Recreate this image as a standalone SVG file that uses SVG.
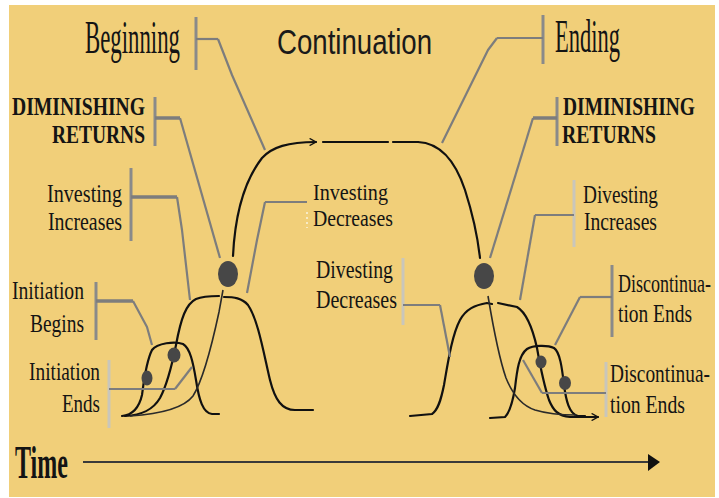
<svg xmlns="http://www.w3.org/2000/svg" width="719" height="498" viewBox="0 0 719 498">
<defs>
<style>
.t{font-family:"Liberation Serif","Times New Roman",serif;font-size:25px;fill:#141414}
.b{font-weight:bold}
.big{font-size:46px}
.sm{font-size:23.5px}
.sans{font-family:"Liberation Sans",Arial,sans-serif;font-size:35px;fill:#1a1a1a}
.bar{stroke:#8a8a8a;stroke-width:3;fill:none}
.lbar{stroke:#c9c6bb;stroke-width:3;fill:none}
.ld{stroke:#7d7d7d;stroke-width:2.2;fill:none;stroke-linejoin:round}
.hz{stroke:#7d7d7d;stroke-width:3.5;fill:none}
.cv{stroke:#111;stroke-width:2.2;fill:none;stroke-linecap:round}
.th{stroke:#2a2a2a;stroke-width:1.6;fill:none}
.dot{fill:#474747}
</style>
<marker id="chev" viewBox="0 0 10 10" refX="9" refY="5" markerWidth="8" markerHeight="8" markerUnits="userSpaceOnUse" orient="auto">
<path d="M1,0.5 L9,5 L1,9.5" fill="none" stroke="#111" stroke-width="1.6"/>
</marker>
</defs>
<rect width="719" height="498" fill="#ffffff"/>
<rect x="9" y="5" width="706" height="492" fill="#F1CF79"/>

<g id="curves">
<path class="cv" d="M233,256 C235,215 245,180 262,158 C272,147 288,142 316,142" marker-end="url(#chev)"/>
<path class="cv" d="M323,142 L388,142 M393,142 L418,142"/>
<path class="cv" d="M418,142 C440,143 455,160 465,190 C473,215 478,240 480,258"/>
<path class="cv" d="M125,416 C142,415 153,410 160,398 C168,383 172,365 176,345 C181,318 186,304 196,299 C203,296 212,296 219,296 M224,297 C234,297 242,298 248,305 C258,320 263,350 270,380 C275,400 282,410 295,410 L313,410"/>
<path class="cv" d="M122,416 C133,415 139,408 142,395 C144,380 146,362 152,350 C157,343 175,341 183,344 C190,348 193,362 196,380 C199,400 203,413 212,414 L219,414"/>
<path class="th" d="M130,416 C160,414 183,409 193,396 C203,380 213,340 219,312 L223,290"/>
<path class="cv" d="M410,416 L432,414 C438,410 441,400 444,385 C448,362 452,335 460,320 C466,309 475,305 487,303 L492,304 M498,303 L517,307 C527,313 533,330 537,348 C540,365 544,385 549,400 C553,410 558,416 570,417 L598,417" marker-end="url(#chev)"/>
<path class="cv" d="M490,418 L505,417 C510,412 513,400 515,388 C517,370 519,355 527,349 C533,345 548,345 554,348 C560,352 562,368 564,385 C566,400 569,414 578,416 L585,416"/>
<path class="th" d="M488,296 C492,320 498,355 506,378 C512,393 520,405 535,410 C548,414 560,415 576,415"/>
<ellipse class="dot" cx="228" cy="274" rx="10" ry="13"/>
<ellipse class="dot" cx="484" cy="276" rx="10" ry="13"/>
<ellipse class="dot" cx="147" cy="378" rx="5.5" ry="7.5"/>
<ellipse class="dot" cx="174" cy="355" rx="6.5" ry="7.5"/>
<ellipse class="dot" cx="541" cy="362" rx="5.5" ry="6.5"/>
<ellipse class="dot" cx="565" cy="383" rx="6" ry="7"/>
</g>

<g id="connectors">
<path class="ld" d="M218,39 L232,75 L265,150"/>
<path class="ld" d="M497,38 L488,50 L442,143"/>
<path class="ld" d="M180,118 L220,258"/>
<path class="ld" d="M533,118 L490,258"/>
<path class="ld" d="M177,197 L182,230 L190,300"/>
<path class="ld" d="M265,202 L257,240 L247,293"/>
<path class="ld" d="M133,301 L147,327 L152,345"/>
<path class="ld" d="M175,389 L192,367"/>
<path class="ld" d="M440,305 L450,357"/>
<path class="ld" d="M535,215 L520,300"/>
<path class="ld" d="M580,297 L555,345"/>
<path class="ld" d="M542,393 L523,360"/>
</g>

<g id="beginning">
<path class="bar" d="M196,17 V70"/><path class="ld" d="M196,39 H218"/>
<text class="t big" x="85" y="53" textLength="95" lengthAdjust="spacingAndGlyphs">Beginning</text>
</g>
<g id="continuation">
<text class="sans" x="277" y="54" textLength="155" lengthAdjust="spacingAndGlyphs">Continuation</text>
</g>
<g id="ending">
<path class="bar" d="M543,15 V64"/><path class="ld" d="M543,38 H497"/>
<text class="t big" x="555" y="52" textLength="65" lengthAdjust="spacingAndGlyphs">Ending</text>
</g>
<g id="dim-left">
<path class="bar" d="M155,97 V146"/><path class="hz" d="M155,118 H180"/>
<text class="t b" x="12" y="115" textLength="133" lengthAdjust="spacingAndGlyphs">DIMINISHING</text>
<text class="t b" x="52" y="143" textLength="93" lengthAdjust="spacingAndGlyphs">RETURNS</text>
</g>
<g id="dim-right">
<path class="bar" d="M557,97 V146"/><path class="hz" d="M557,118 H533"/>
<text class="t b" transform="translate(563,115) scale(0.779,1)" x="0" y="0">DIMINISHING</text>
<text class="t b" x="562" y="143" textLength="94" lengthAdjust="spacingAndGlyphs">RETURNS</text>
</g>
<g id="investing-increases">
<path class="bar" d="M131,168 V241"/><path class="hz" d="M131,197 H177"/>
<text class="t" x="47" y="202" textLength="75" lengthAdjust="spacingAndGlyphs">Investing</text>
<text class="t" x="48" y="230" textLength="74" lengthAdjust="spacingAndGlyphs">Increases</text>
</g>
<g id="investing-decreases">
<path d="M307,212 V228" stroke="#f7ebc6" stroke-width="2" stroke-dasharray="2 3"/><path class="ld" d="M307,202 H265"/>
<text class="t sm" x="313" y="200" textLength="75" lengthAdjust="spacingAndGlyphs">Investing</text>
<text class="t sm" x="313" y="226" textLength="80" lengthAdjust="spacingAndGlyphs">Decreases</text>
</g>
<g id="initiation-begins">
<path class="bar" d="M96,282 V340"/><path class="hz" d="M96,301 H133"/>
<text class="t" x="12" y="299" textLength="72" lengthAdjust="spacingAndGlyphs">Initiation</text>
<text class="t" x="30" y="332" textLength="54" lengthAdjust="spacingAndGlyphs">Begins</text>
</g>
<g id="initiation-ends">
<path class="lbar" d="M109,360 V428"/><path class="ld" d="M109,389 H175"/>
<text class="t" x="29" y="380" textLength="71" lengthAdjust="spacingAndGlyphs">Initiation</text>
<text class="t" x="62" y="412" textLength="38" lengthAdjust="spacingAndGlyphs">Ends</text>
</g>
<g id="divesting-decreases">
<path class="lbar" d="M403,258 V325"/><path class="ld" d="M403,305 H440"/>
<text class="t" x="316" y="278" textLength="77" lengthAdjust="spacingAndGlyphs">Divesting</text>
<text class="t" x="316" y="308" textLength="81" lengthAdjust="spacingAndGlyphs">Decreases</text>
</g>
<g id="divesting-increases">
<path class="lbar" d="M574,180 V247"/><path class="ld" d="M574,215 H535"/>
<text class="t" x="583" y="203" textLength="75" lengthAdjust="spacingAndGlyphs">Divesting</text>
<text class="t" x="584" y="230" textLength="73" lengthAdjust="spacingAndGlyphs">Increases</text>
</g>
<g id="discontinuation-upper">
<path class="bar" d="M612,265 V337"/><path class="ld" d="M612,297 H580"/>
<text class="t" transform="translate(618,292) scale(0.72,1)" x="0" y="0">Discontinua-</text>
<text class="t" x="618" y="322" textLength="74" lengthAdjust="spacingAndGlyphs">tion Ends</text>
</g>
<g id="discontinuation-lower">
<path class="lbar" d="M606,362 V417"/><path class="ld" d="M606,393 H542"/>
<text class="t" transform="translate(610,382) scale(0.774,1)" x="0" y="0">Discontinua-</text>
<text class="t" x="610" y="413" textLength="75" lengthAdjust="spacingAndGlyphs">tion Ends</text>
</g>
<g id="time">
<text class="t b big" x="15" y="478" textLength="53" lengthAdjust="spacingAndGlyphs">Time</text>
<path d="M83,462 H650" stroke="#3a3a3a" stroke-width="2.2"/>
<polygon points="648,454 660,462 648,471" fill="#111"/>
</g>
</svg>
